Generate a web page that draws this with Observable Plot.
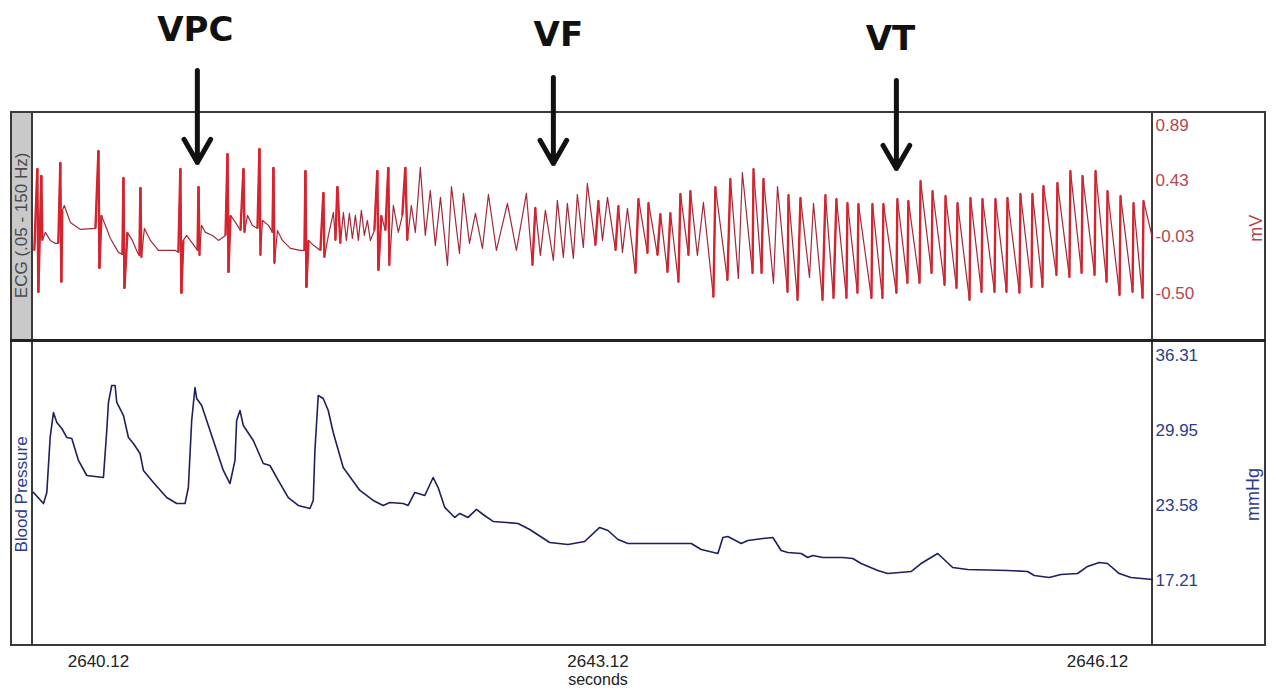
<!DOCTYPE html>
<html>
<head>
<meta charset="utf-8">
<script src="https://cdn.jsdelivr.net/npm/d3@7"></script>
<script src="https://cdn.jsdelivr.net/npm/@observablehq/plot@0.6"></script>
<style>
  html, body { margin: 0; padding: 0; background: #fff; }
  #wrap { position: relative; width: 1276px; height: 691px; background: #fff; overflow: hidden; }
  #wrap .box { position: absolute; box-sizing: border-box; }
  #wrap svg { position: absolute; left: 0; max-width: none; }
</style>
</head>
<body>
<div id="wrap">
  <div class="box" style="left:12px;top:113px;width:19px;height:226px;background:#c9c9c9;"></div>
  <div class="box" style="left:10px;top:111px;width:1256px;height:535px;border:2px solid #3a3a3a;"></div>
  <div class="box" style="left:31px;top:111px;width:2px;height:535px;background:#3a3a3a;"></div>
  <div class="box" style="left:1151px;top:111px;width:2px;height:535px;background:#3a3a3a;"></div>
  <div class="box" style="left:10px;top:339px;width:1256px;height:3px;background:#222;"></div>
</div>
<script>
// ---- scales / ticks ----
const xDomain = [2639.73, 2646.45];
const ecgDomain = [-0.889, 0.997];
const bpDomain = [11.69, 37.58];
const xTicks = [2640.12, 2643.12, 2646.12];
const ecgTicks = [0.89, 0.43, -0.03, -0.50];
const bpTicks = [36.31, 29.95, 23.58, 17.21];

// ---- annotations ----
const annotLabels = ["VPC", "VF", "VT"];
const annotLabelTime = [2640.702, 2642.882, 2644.876];
const annotLabelMv = [1.676, 1.634, 1.601];
const annotArrowTime = [2640.714, 2642.852, 2644.912];
const annotArrowFrom = [1.345, 1.287, 1.262];
const annotArrowTo = [0.584, 0.576, 0.534];

// ---- ECG (seconds, mV) ----
const ecgSinus = [[2639.735,-0.144],[2639.753,0.534],[2639.759,-0.491],[2639.777,0.477],[2639.783,-0.061],[2639.801,0.005],[2639.831,-0.061],[2639.861,-0.086],[2639.879,-0.086],[2639.891,0.584],[2639.897,-0.408],[2639.903,0.187],[2639.915,0.228],[2639.951,0.088],[2640.012,0.030],[2640.102,0.038],[2640.120,0.683],[2640.126,-0.293],[2640.138,0.146],[2640.162,0.063],[2640.192,-0.045],[2640.240,-0.160],[2640.264,-0.177],[2640.270,0.460],[2640.276,-0.458],[2640.294,0.005],[2640.324,-0.061],[2640.354,-0.160],[2640.366,-0.185],[2640.372,0.377],[2640.378,-0.202],[2640.396,0.038],[2640.432,-0.061],[2640.480,-0.144],[2640.582,-0.144],[2640.600,-0.160],[2640.612,0.534],[2640.618,-0.499],[2640.630,-0.061],[2640.649,-0.020],[2640.685,-0.086],[2640.715,-0.144],[2640.721,0.385],[2640.727,-0.185],[2640.739,0.063],[2640.763,0.005],[2640.805,-0.020],[2640.841,-0.061],[2640.883,-0.020],[2640.895,0.658],[2640.901,-0.326],[2640.913,0.146],[2640.943,0.088],[2640.973,0.021],[2640.991,0.534],[2640.997,0.005],[2641.015,0.146],[2641.045,0.063],[2641.075,0.038],[2641.087,0.700],[2641.093,-0.185],[2641.105,0.104],[2641.141,0.063],[2641.165,0.005],[2641.171,0.543],[2641.177,-0.251],[2641.195,0.021],[2641.225,-0.061],[2641.273,-0.127],[2641.333,-0.144],[2641.357,-0.144],[2641.363,0.518],[2641.369,-0.450],[2641.381,-0.061],[2641.411,-0.102],[2641.453,-0.144],[2641.471,0.336],[2641.477,-0.202],[2641.501,-0.020]];
const ecgVF = [[2641.531,0.170],[2641.543,-0.061],[2641.555,0.385],[2641.573,-0.086],[2641.591,0.170],[2641.609,-0.061],[2641.627,0.162],[2641.645,-0.045],[2641.663,0.146],[2641.681,-0.061],[2641.699,0.187],[2641.717,-0.020],[2641.735,0.104],[2641.753,-0.061],[2641.777,0.021],[2641.795,0.518],[2641.801,-0.309],[2641.819,0.146],[2641.843,0.021],[2641.861,0.543],[2641.867,-0.268],[2641.891,0.228],[2641.921,0.005],[2641.945,0.146],[2641.963,0.543],[2641.975,-0.061],[2641.999,0.228],[2642.023,0.005],[2642.053,0.543],[2642.083,-0.020],[2642.113,0.352],[2642.143,-0.102],[2642.174,0.295],[2642.216,-0.268],[2642.240,0.385],[2642.288,-0.169],[2642.312,0.328],[2642.348,-0.086],[2642.384,0.162],[2642.426,-0.127],[2642.462,0.319],[2642.510,-0.144],[2642.576,0.245],[2642.630,-0.144],[2642.690,0.328],[2642.726,-0.268],[2642.744,0.212],[2642.774,-0.185],[2642.804,0.187],[2642.852,-0.226],[2642.876,0.270],[2642.912,-0.202],[2642.936,0.245],[2642.972,-0.210],[2642.996,0.319],[2643.032,-0.119],[2643.056,0.410],[2643.104,-0.102],[2643.123,0.270],[2643.147,-0.061],[2643.177,0.295],[2643.225,-0.144],[2643.243,0.228],[2643.267,-0.160],[2643.297,0.204],[2643.345,-0.334],[2643.363,0.286],[2643.417,-0.169],[2643.423,0.253],[2643.477,-0.185],[2643.495,0.162],[2643.537,-0.326],[2643.555,0.170],[2643.603,-0.408],[2643.615,0.328],[2643.663,-0.185],[2643.675,0.352],[2643.717,-0.185],[2643.753,0.253]];
const ecgVT = [[2643.813,-0.532],[2643.825,0.385],[2643.897,-0.392],[2643.915,0.452],[2643.963,-0.375],[2643.987,0.501],[2644.048,-0.334],[2644.054,0.534],[2644.102,-0.334],[2644.114,0.452],[2644.174,-0.417],[2644.198,0.385],[2644.258,-0.491],[2644.264,0.319],[2644.318,-0.557],[2644.336,0.295],[2644.390,-0.367],[2644.414,0.245],[2644.468,-0.557],[2644.486,0.319],[2644.534,-0.541],[2644.552,0.286],[2644.612,-0.541],[2644.618,0.253],[2644.678,-0.499],[2644.684,0.245],[2644.762,-0.541],[2644.768,0.245],[2644.828,-0.541],[2644.834,0.245],[2644.912,-0.499],[2644.918,0.286],[2644.978,-0.417],[2644.984,0.270],[2645.051,-0.417],[2645.057,0.435],[2645.123,-0.334],[2645.129,0.352],[2645.201,-0.433],[2645.207,0.311],[2645.273,-0.458],[2645.279,0.253],[2645.351,-0.557],[2645.357,0.295],[2645.423,-0.491],[2645.429,0.286],[2645.501,-0.491],[2645.507,0.286],[2645.573,-0.491],[2645.579,0.295],[2645.651,-0.499],[2645.657,0.328],[2645.723,-0.450],[2645.729,0.328],[2645.789,-0.450],[2645.795,0.394],[2645.873,-0.351],[2645.879,0.419],[2645.951,-0.367],[2645.957,0.518],[2646.024,-0.334],[2646.030,0.477],[2646.102,-0.351],[2646.108,0.518],[2646.174,-0.408],[2646.180,0.352],[2646.252,-0.516],[2646.258,0.311],[2646.330,-0.491],[2646.336,0.253],[2646.390,-0.541],[2646.396,0.270],[2646.450,-0.045]];

// ---- Blood pressure (seconds, mmHg) ----
const bpEarly = [[2639.73,24.68],[2639.79,23.74],[2639.81,24.68],[2639.83,29.35],[2639.85,31.47],[2639.87,30.62],[2639.90,30.11],[2639.93,29.35],[2639.96,29.26],[2640.00,27.40],[2640.05,26.12],[2640.15,25.95],[2640.17,29.94],[2640.18,32.32],[2640.20,33.76],[2640.22,33.76],[2640.23,32.32],[2640.27,31.22],[2640.30,29.35],[2640.33,28.84],[2640.37,27.99],[2640.39,26.55],[2640.45,25.53],[2640.53,24.25],[2640.59,23.74],[2640.64,23.74],[2640.66,25.10],[2640.68,30.79],[2640.70,33.59],[2640.71,32.66],[2640.74,32.07],[2640.81,29.09],[2640.87,26.55],[2640.91,25.44],[2640.94,27.40],[2640.95,30.79],[2640.97,31.64],[2640.99,30.37],[2641.05,29.09],[2641.11,27.14],[2641.15,26.97],[2641.20,25.70],[2641.26,24.25],[2641.32,23.58],[2641.39,23.32],[2641.41,24.00],[2641.42,28.24],[2641.44,32.91],[2641.47,32.66],[2641.50,31.64],[2641.53,29.77],[2641.59,26.80],[2641.69,24.85],[2641.77,24.00],[2641.83,23.58],[2641.87,23.83],[2641.95,23.74],[2641.98,23.58]];
const bpLate = [[2642.02,24.68],[2642.08,24.42],[2642.13,25.95],[2642.16,25.10],[2642.20,23.41],[2642.26,22.56],[2642.29,22.90],[2642.34,22.56],[2642.39,23.24],[2642.43,22.81],[2642.49,22.22],[2642.64,22.05],[2642.71,21.54],[2642.83,20.43],[2642.94,20.26],[2643.04,20.52],[2643.13,21.71],[2643.18,21.45],[2643.24,20.69],[2643.30,20.35],[2643.68,20.35],[2643.74,19.84],[2643.84,19.50],[2643.87,20.86],[2643.90,20.94],[2643.98,20.35],[2644.02,20.60],[2644.11,20.77],[2644.17,20.86],[2644.22,19.75],[2644.26,19.58],[2644.34,19.50],[2644.38,19.16],[2644.41,19.33],[2644.47,19.16],[2644.59,19.16],[2644.65,19.07],[2644.70,18.65],[2644.80,18.06],[2644.86,17.80],[2645.00,17.97],[2645.06,18.65],[2645.16,19.50],[2645.25,18.31],[2645.34,18.14],[2645.58,18.06],[2645.70,17.97],[2645.74,17.63],[2645.83,17.46],[2645.90,17.72],[2646.00,17.80],[2646.06,18.40],[2646.13,18.74],[2646.18,18.65],[2646.25,17.80],[2646.32,17.46],[2646.45,17.29]];

// ---- build tables ----
const ecg = [...ecgSinus, ...ecgVF, ...ecgVT].map(([t, v]) => ({t, v}));
const bp = [...bpEarly, ...bpLate].map(([t, v]) => ({t, v}));
const spikes = [];
for (let i = 0; i < ecg.length - 1; i++) {
  const a = ecg[i], b = ecg[i + 1];
  if (b.t - a.t < 0.02 && Math.abs(b.v - a.v) > 0.3) spikes.push({t1: a.t, v1: a.v, t2: b.t, v2: b.v});
}
const annots = annotLabels.map((label, i) => ({
  label, lt: annotLabelTime[i], lv: annotLabelMv[i],
  at: annotArrowTime[i], from: annotArrowFrom[i], to: annotArrowTo[i]
}));

const FONT = "'Liberation Sans', Arial, sans-serif";
const RED = "#b4464e";
const BLUE = "#2b3c8f";

const ecgPlot = Plot.plot({
  width: 1276, height: 340,
  marginTop: 112, marginBottom: 0, marginLeft: 33, marginRight: 124,
  x: {domain: xDomain, axis: null},
  y: {domain: ecgDomain, axis: null},
  style: {background: "transparent", overflow: "visible", fontFamily: FONT, fontSize: "17px"},
  marks: [
    Plot.line(ecg, {x: "t", y: "v", stroke: "#a3283a", strokeWidth: 1.2}),
    Plot.link(spikes, {x1: "t1", y1: "v1", x2: "t2", y2: "v2", stroke: "#d6242e", strokeWidth: 2.4}),
    Plot.axisY(ecgTicks, {anchor: "right", tickSize: 0, tickPadding: 3, tickFormat: d => d.toFixed(2), color: RED, fill: RED, fontSize: 17, label: null}),
    Plot.text(["mV"], {y: [0.04], frameAnchor: "right", dx: 104, rotate: -90, textAnchor: "middle", fill: RED, fontSize: 18}),
    Plot.text(["ECG (.05 - 150 Hz)"], {y: [0.063], frameAnchor: "left", dx: -12, rotate: -90, textAnchor: "middle", fill: "#4a4a4a", fontSize: 17}),
    Plot.arrow(annots, {x1: "at", y1: "from", x2: "at", y2: "to", stroke: "#111", strokeWidth: 5}),
    Plot.text(annots, {x: "lt", y: "lv", text: "label", fontSize: 34, fontWeight: "bold", fontFamily: "'DejaVu Sans', sans-serif", fill: "#111"})
  ]
});
ecgPlot.style.top = "0px";

const bpPlot = Plot.plot({
  width: 1276, height: 351,
  marginTop: 0, marginBottom: 46, marginLeft: 33, marginRight: 124,
  x: {domain: xDomain, axis: null},
  y: {domain: bpDomain, axis: null},
  style: {background: "transparent", overflow: "visible", fontFamily: FONT, fontSize: "17px"},
  marks: [
    Plot.line(bp, {x: "t", y: "v", stroke: "#1d1f5e", strokeWidth: 1.6}),
    Plot.axisY(bpTicks, {anchor: "right", tickSize: 0, tickPadding: 3, tickFormat: d => d.toFixed(2), color: BLUE, fill: BLUE, fontSize: 17, label: null}),
    Plot.axisX(xTicks, {anchor: "bottom", tickSize: 0, tickPadding: 9, tickFormat: d => d.toFixed(2), color: "#222", fill: "#222", fontSize: 17, label: null}),
    Plot.text(["seconds"], {x: [2643.12], frameAnchor: "bottom", dy: 39, fill: "#222", fontSize: 16}),
    Plot.text(["mmHg"], {y: [24.51], frameAnchor: "right", dx: 101, rotate: -90, textAnchor: "middle", fill: BLUE, fontSize: 18}),
    Plot.text(["Blood Pressure"], {y: [24.51], frameAnchor: "left", dx: -12, rotate: -90, textAnchor: "middle", fill: BLUE, fontSize: 17})
  ]
});
bpPlot.style.top = "340px";

const wrap = document.getElementById("wrap");
wrap.appendChild(ecgPlot);
wrap.appendChild(bpPlot);
</script>
</body>
</html>
